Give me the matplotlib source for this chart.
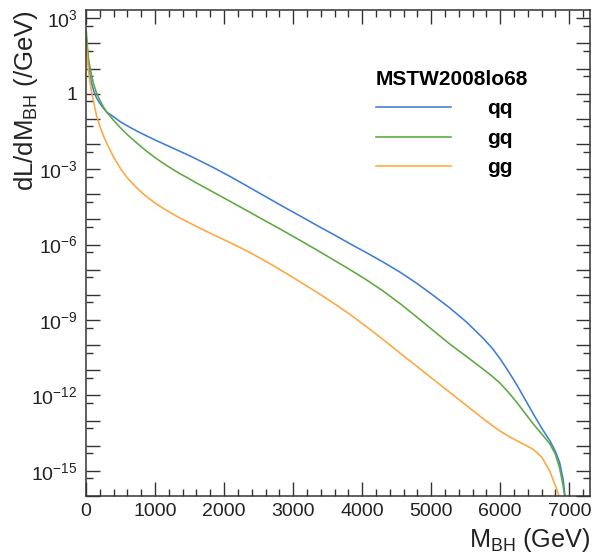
import numpy as np
import matplotlib
matplotlib.use("Agg")
import matplotlib.pyplot as plt
from matplotlib.ticker import FixedLocator, MultipleLocator, NullFormatter, FixedFormatter

plt.rcParams['font.family'] = ['Liberation Sans', 'DejaVu Sans']
plt.rcParams['mathtext.fontset'] = 'custom'
plt.rcParams['mathtext.rm'] = 'Liberation Sans'
plt.rcParams['mathtext.it'] = 'Liberation Sans:italic'
plt.rcParams['mathtext.bf'] = 'Liberation Sans:bold'
plt.rcParams['mathtext.default'] = 'regular'

# ---- data, log10 of dL/dM_BH in 1/GeV ----
M_BH = [5, 10, 20, 35, 60, 85, 110, 150, 200, 250, 300, 400, 500, 600, 740, 880,
        1000, 1120, 1240, 1360, 1480, 1600, 1840, 2100, 2350, 2600, 2830, 3100,
        3340, 3580, 3820, 4060, 4300, 4550, 4790, 5030, 5270, 5510, 5750, 5880,
        6000, 6120, 6240, 6360, 6480, 6600, 6720, 6800, 6860, 6910, 6940, 6960]

log_qq = [2.22, 2.02, 1.66, 1.18, 0.69, 0.37, 0.13, -0.15, -0.38, -0.57, -0.73,
          -0.92, -1.12, -1.28, -1.49, -1.68, -1.84, -1.99, -2.14, -2.29, -2.44,
          -2.60, -2.93, -3.31, -3.70, -4.09, -4.45, -4.86, -5.23, -5.59, -5.96,
          -6.32, -6.69, -7.10, -7.54, -8.02, -8.52, -9.08, -9.72, -10.11, -10.55,
          -11.05, -11.58, -12.16, -12.74, -13.30, -13.81, -14.23, -14.67, -15.32,
          -16.05, -16.90]

log_gq = [2.46, 2.24, 1.90, 1.42, 1.02, 0.67, 0.39, 0.05, -0.25, -0.51, -0.73,
          -1.06, -1.36, -1.63, -1.97, -2.29, -2.54, -2.77, -2.98, -3.18, -3.36,
          -3.55, -3.91, -4.30, -4.68, -5.06, -5.41, -5.83, -6.21, -6.60, -6.99,
          -7.40, -7.84, -8.35, -8.88, -9.42, -9.96, -10.45, -10.95, -11.23, -11.52,
          -11.88, -12.28, -12.71, -13.14, -13.53, -13.93, -14.35, -14.89, -15.58,
          -16.15, -16.80]

log_gg = [1.96, 1.78, 1.42, 0.93, 0.43, 0.01, -0.31, -0.85, -1.29, -1.66, -1.97,
          -2.52, -2.98, -3.35, -3.76, -4.10, -4.35, -4.56, -4.76, -4.94, -5.11,
          -5.28, -5.60, -5.94, -6.28, -6.66, -7.03, -7.48, -7.89, -8.32, -8.77,
          -9.26, -9.77, -10.32, -10.84, -11.36, -11.88, -12.40, -12.92, -13.19, -13.42,
          -13.62, -13.80, -13.97, -14.15, -14.45, -15.03, -15.60, -16.08, -17.00,
          -18.00, -19.00]

series_names = ['qq', 'gq', 'gg']
series_logs = [log_qq, log_gq, log_gg]
series_colors = ['#3f7cd6', '#5ea83f', '#ffa63d']
legend_title = 'MSTW2008lo68'

x_major = [0, 1000, 2000, 3000, 4000, 5000, 6000, 7000]
y_label_exps = [3, 0, -3, -6, -9, -12, -15]

# ---- figure ----
fig = plt.figure(figsize=(5.92, 5.58), dpi=100)
ax = fig.add_axes([86/592, 1 - 496/558, 504/592, 486/558])

M = np.array(M_BH, dtype=float)
for name, lg, col in zip(series_names, series_logs, series_colors):
    ax.plot(M, 10.0 ** np.array(lg), color=col, lw=1.15, label=name,
            solid_joinstyle='round')

ax.set_yscale('log')
ax.set_xlim(0, 7300)
ax.set_ylim(1e-16, 10 ** 3.33)

# x ticks
ax.xaxis.set_major_locator(FixedLocator(x_major))
ax.set_xticklabels([str(v) for v in x_major])
ax.xaxis.set_minor_locator(MultipleLocator(200))

# y ticks: every decade, labels every 3 decades
dec = list(range(-16, 4))
ax.yaxis.set_major_locator(FixedLocator([10.0 ** k for k in dec]))
ylabels = []
for k in dec:
    if k in y_label_exps:
        ylabels.append('1' if k == 0 else r'$10^{%d}$' % k)
    else:
        ylabels.append('')
ax.yaxis.set_major_formatter(FixedFormatter(ylabels))
ax.yaxis.set_minor_locator(FixedLocator([5 * 10.0 ** k for k in range(-17, 4)]))
ax.yaxis.set_minor_formatter(NullFormatter())

frame_col = '#333333'
for sp in ax.spines.values():
    sp.set_linewidth(1.1)
    sp.set_color(frame_col)

ax.tick_params(which='both', direction='in', top=True, right=True, color=frame_col, width=1.0)
ax.tick_params(which='major', length=10)
ax.tick_params(which='minor', length=5)
ax.tick_params(axis='x', which='major', labelsize=14, pad=5, labelcolor='#222222')
ax.tick_params(axis='y', which='major', labelsize=14, pad=6, labelcolor='#222222')

ax.set_xlabel(r'M$_{\mathrm{BH}}$ (GeV)', fontsize=18.2, loc='right', color='#222222')
ax.xaxis.set_label_coords(1.0, -0.062)
ax.set_ylabel(r'dL/dM$_{\mathrm{BH}}$ (/GeV)', fontsize=18.5, loc='top', color='#222222')
ax.yaxis.set_label_coords(-0.092, 1.0)

leg = ax.legend(loc='upper left', bbox_to_anchor=((376 - 86) / 504, (496 - 70) / 486),
                frameon=False, title=legend_title, alignment='left',
                prop={'weight': 'bold', 'size': 15},
                title_fontproperties={'weight': 'bold', 'size': 15},
                handlelength=3.6, handletextpad=1.75, labelspacing=0.5,
                borderpad=0, borderaxespad=0)
for h in leg.get_lines():
    h.set_linewidth(1.15)

fig.savefig('out.png', dpi=100)
